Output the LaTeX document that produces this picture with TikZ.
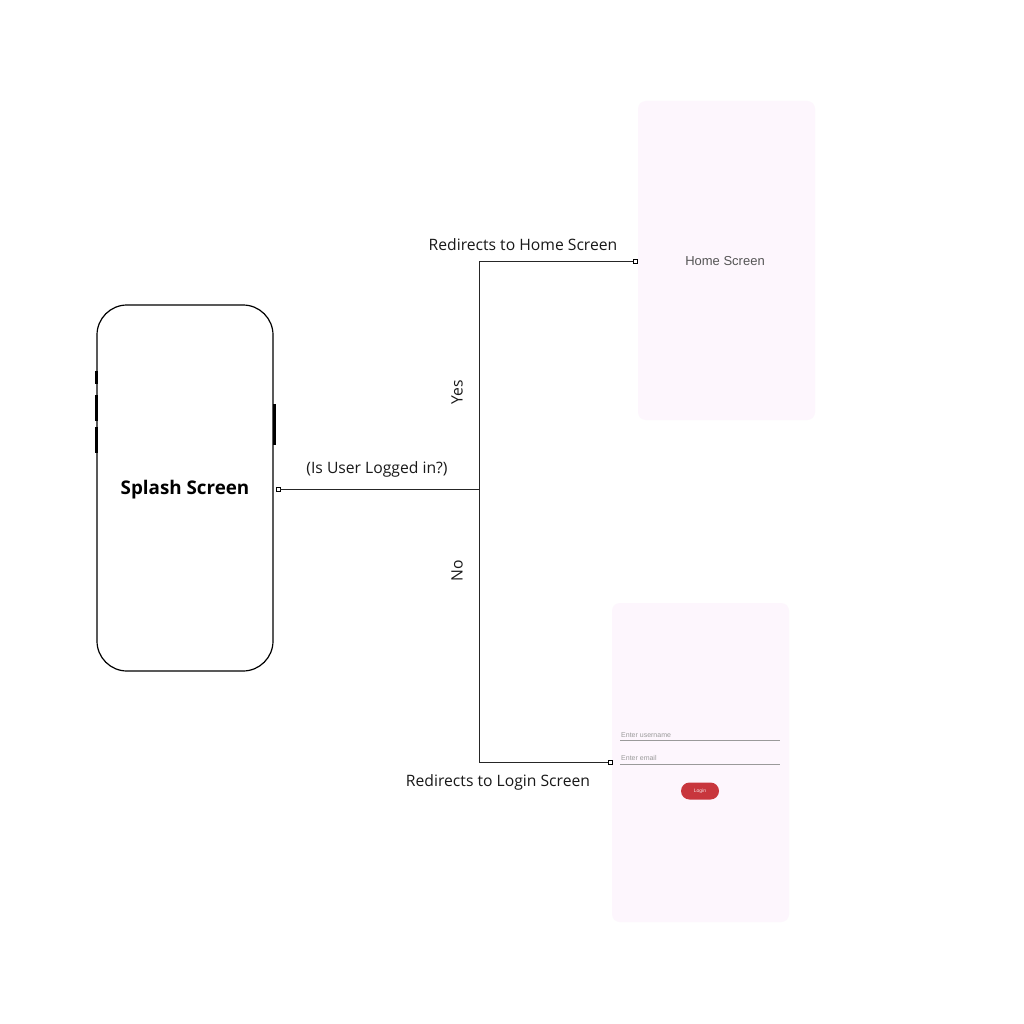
\documentclass[tikz,border=0pt]{standalone}
\usepackage{fontspec}
\setmainfont{Open Sans}
\newfontfamily\uifont{Liberation Sans}
\definecolor{screenbg}{HTML}{FDF6FD}
\definecolor{btnred}{HTML}{C8363D}
\definecolor{uigray}{HTML}{555555}
\definecolor{hintgray}{HTML}{9A9A9A}
\begin{document}
\begin{tikzpicture}[x=1pt,y=-1pt,
  conn/.style={draw=black!85, line width=1pt},
  port/.style={draw=black, line width=0.9pt, fill=white, minimum size=4pt, inner sep=0pt, rectangle},
  lbl/.style={font=\fontsize{15.7}{18}\selectfont, text=black!90, inner sep=0pt},
  screen/.style={fill=screenbg, draw=none, rounded corners=8pt},
  sidebtn/.style={line width=3pt, draw=black}
]
\useasboundingbox (0,0) rectangle (1024,1024);
\fill[white] (0,0) rectangle (1024,1024);

% phone
\draw[line width=1.2pt, rounded corners=30pt] (97,305) rectangle (273,671);
\draw[sidebtn] (96,371) -- (96,384);
\draw[sidebtn] (96,395) -- (96,421);
\draw[sidebtn] (96,427) -- (96,453);
\draw[sidebtn] (274,404) -- (274,445);
\node[font=\bfseries\fontsize{18.8}{22}\selectfont, inner sep=0pt] (splash) at (185,490) {Splash Screen};

% screens
\fill[screen] (638,101) rectangle (815,420);
\node[font=\uifont\fontsize{13}{16}\selectfont, text=uigray, inner sep=0pt] (home) at (725,261) {Home Screen};

\fill[screen] (612,603) rectangle (789,922);
\node[font=\uifont\fontsize{7}{8}\selectfont, text=hintgray, anchor=west, inner sep=0pt] (user) at (621,735) {Enter username};
\draw[hintgray, line width=0.9pt] (620,740) -- (780,740);
\node[font=\uifont\fontsize{7}{8}\selectfont, text=hintgray, anchor=west, inner sep=0pt] (email) at (621,758) {Enter email};
\draw[hintgray, line width=0.9pt] (620,764) -- (780,764);
\node[fill=btnred, rounded corners=8.5pt, minimum width=38pt, minimum height=17pt, inner sep=0pt,
  font=\uifont\fontsize{5}{6}\selectfont, text=white!85!btnred] (login) at (700,791) {Login};

% connectors
\node[port] (p0) at (278,489) {};
\node[port] (p1) at (635,261) {};
\node[port] (p2) at (610,762) {};
\coordinate (j) at (479,489);
\coordinate (jt) at (479,261);
\coordinate (jb) at (479,762);
\draw[conn] (p0) -- (j);
\draw[conn] (jb) -- (jt);
\draw[conn] (jt) -- (p1);
\draw[conn] (jb) -- (p2);

\node[lbl] (q) at (377,469) {(Is User Logged in?)};
\node[lbl] (lh) at (523,245) {Redirects to Home Screen};
\node[lbl] (ll) at (498,782) {Redirects to Login Screen};
\node[lbl, rotate=90] (yes) at (457,392) {Yes};
\node[lbl, rotate=90] (no) at (457,571) {No};
\end{tikzpicture}
\end{document}
